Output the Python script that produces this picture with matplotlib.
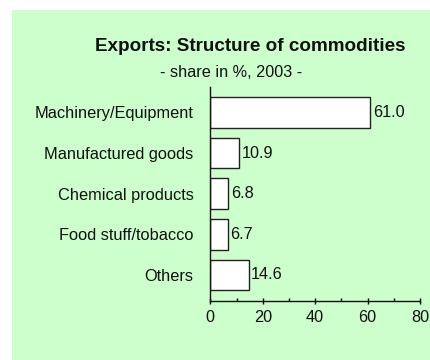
import matplotlib
matplotlib.use("Agg")
import matplotlib.pyplot as plt
from matplotlib.patches import Rectangle
from matplotlib.ticker import MultipleLocator

categories = ["Machinery/Equipment", "Manufactured goods", "Chemical products",
              "Food stuff/tobacco", "Others"]
values = [61.0, 10.9, 6.8, 6.7, 14.6]
xticks = [0, 20, 40, 60, 80]

plt.rcParams['font.family'] = ['Liberation Sans', 'DejaVu Sans']

fig = plt.figure(figsize=(4.3, 3.6), dpi=100)
fig.patch.set_facecolor('white')
fig.patches.append(Rectangle((12/430, 0), 417/430 - 12/430, 1 - 10/360,
                             transform=fig.transFigure, facecolor='#CCFFCC',
                             edgecolor='none', zorder=-10))
fig.patches.append(Rectangle((12/430, 0), 1 - 12/430, 1 - 10/360,
                             transform=fig.transFigure, facecolor='#CCFFCC',
                             edgecolor='none', zorder=-10))

ax = fig.add_axes([210.3/430, 1 - 300.7/360, (420 - 210.3)/430, (300.7 - 86.7)/360])
ax.set_facecolor('none')

ypos = list(range(len(categories)))
ax.barh(ypos, values, height=0.75, color='white', edgecolor='#222222', linewidth=1.0)
for y, v in zip(ypos, values):
    ax.text(v + 1.0, y, f"{v:.1f}", va='center', ha='left', fontsize=11.7, color='#111111')

ax.set_ylim(4.635, -0.635)
ax.set_xlim(0, 80)
ax.set_yticks(ypos)
ax.set_yticklabels(categories, fontsize=11.8, color='#111111')
ax.tick_params(axis='y', length=0, pad=12)
ax.set_xticks(xticks)
ax.set_xticklabels([str(t) for t in xticks], fontsize=11.7, color='#111111')
ax.xaxis.set_minor_locator(MultipleLocator(10))
ax.tick_params(axis='x', which='major', direction='inout', length=5, width=1, pad=4)
ax.tick_params(axis='x', which='minor', direction='in', length=2.5, width=1)
for s in ['top', 'right']:
    ax.spines[s].set_visible(False)
for s in ['left', 'bottom']:
    ax.spines[s].set_linewidth(1.0)
    ax.spines[s].set_color('#111111')

fig.text(250/430, 1 - 46.7/360, "Exports: Structure of commodities", ha='center', va='center',
         fontsize=13.6, fontweight='bold', color='#111111')
fig.text(231/430, 1 - 72.7/360, "- share in %, 2003 -", ha='center', va='center',
         fontsize=11.7, color='#111111')

fig.savefig("out.png", dpi=100)
